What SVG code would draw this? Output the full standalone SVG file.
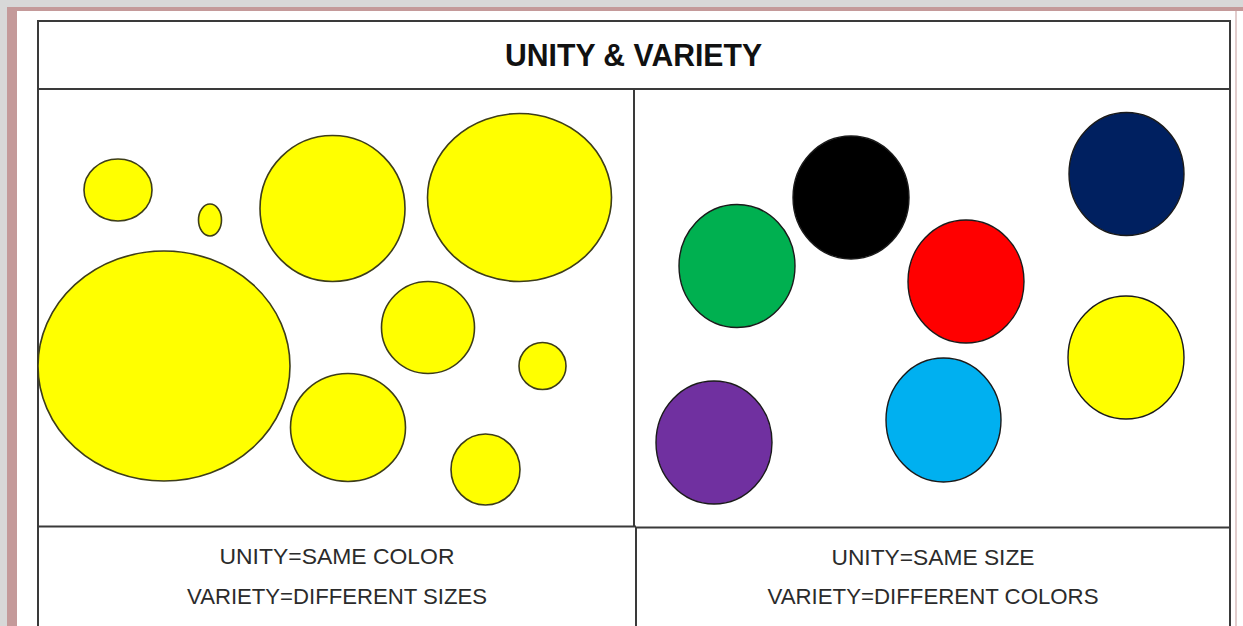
<svg xmlns="http://www.w3.org/2000/svg" width="1243" height="626" viewBox="0 0 1243 626">
  <style>
    .grid { stroke: #3a3a3a; stroke-width: 2; fill: none; }
    .yc { fill: #ffff00; stroke: #3d3d1a; stroke-width: 1.6; }
    .cc { stroke: #1a1a1a; stroke-width: 1.4; }
    .lbl { font-family: "Liberation Sans", Arial, sans-serif; font-size: 22px; fill: #2b2b2b; text-anchor: middle; }
    .ttl { font-family: "Liberation Sans", Arial, sans-serif; font-size: 32px; font-weight: bold; fill: #111; text-anchor: middle; }
  </style>
  <!-- frame -->
  <rect x="0" y="0" width="1243" height="626" fill="#d8d8d8"/>
  <rect x="7" y="7" width="1236" height="619" fill="#c49a9a"/>
  <rect x="17" y="11" width="1226" height="615" fill="#ffffff"/>
  <line x1="1236" y1="11" x2="1236" y2="626" stroke="#d9bcbc" stroke-width="1.5"/>

  <!-- table -->
  <g id="table">
    <rect class="grid" x="38" y="21" width="1192" height="620"/>
    <line class="grid" x1="38" y1="89" x2="1230" y2="89"/>
    <line class="grid" x1="634" y1="89" x2="634" y2="527"/>
    <line class="grid" x1="38" y1="526.5" x2="636" y2="526.5"/>
    <line class="grid" x1="636" y1="527.5" x2="1230" y2="527.5"/>
    <line class="grid" x1="636" y1="527" x2="636" y2="626"/>
  </g>

  <g id="title">
    <text class="ttl" x="633.5" y="66" textLength="257" lengthAdjust="spacingAndGlyphs">UNITY &amp; VARIETY</text>
  </g>

  <!-- left panel: same color, different sizes -->
  <g id="yellow-circles">
    <ellipse class="yc" cx="118" cy="190" rx="34" ry="31"/>
    <ellipse class="yc" cx="210" cy="220" rx="11.5" ry="16"/>
    <ellipse class="yc" cx="332.5" cy="208.5" rx="72.5" ry="73"/>
    <ellipse class="yc" cx="519.5" cy="197.5" rx="92" ry="84"/>
    <ellipse class="yc" cx="164" cy="366" rx="126" ry="115"/>
    <ellipse class="yc" cx="428" cy="327.5" rx="46.5" ry="46"/>
    <ellipse class="yc" cx="542.5" cy="366" rx="23.5" ry="23.5"/>
    <ellipse class="yc" cx="348" cy="427.5" rx="57.5" ry="54"/>
    <ellipse class="yc" cx="485.5" cy="469.5" rx="34.5" ry="35.5"/>
  </g>

  <!-- right panel: same size, different colors -->
  <g id="colored-circles">
    <ellipse id="green" class="cc" cx="737" cy="266" rx="58" ry="61.5" fill="#00b050"/>
    <ellipse id="black" class="cc" cx="851" cy="197.5" rx="58" ry="61.5" fill="#000000"/>
    <ellipse id="red" class="cc" cx="966" cy="281.5" rx="58" ry="61.5" fill="#ff0000"/>
    <ellipse id="navy" class="cc" cx="1126.5" cy="174" rx="57.5" ry="61.5" fill="#002060"/>
    <ellipse id="yellow" class="cc" cx="1126" cy="357.5" rx="58" ry="61.5" fill="#ffff00"/>
    <ellipse id="cyan" class="cc" cx="943.5" cy="420" rx="57.5" ry="62" fill="#00b0f0"/>
    <ellipse id="purple" class="cc" cx="714" cy="442.5" rx="58" ry="61.5" fill="#7030a0"/>
  </g>

  <g id="left-caption">
    <text class="lbl" x="337" y="564" textLength="235" lengthAdjust="spacingAndGlyphs">UNITY=SAME COLOR</text>
    <text class="lbl" x="337" y="604" textLength="300" lengthAdjust="spacingAndGlyphs">VARIETY=DIFFERENT SIZES</text>
  </g>
  <g id="right-caption">
    <text class="lbl" x="933" y="565" textLength="203" lengthAdjust="spacingAndGlyphs">UNITY=SAME SIZE</text>
    <text class="lbl" x="933" y="604" textLength="331" lengthAdjust="spacingAndGlyphs">VARIETY=DIFFERENT COLORS</text>
  </g>
</svg>
